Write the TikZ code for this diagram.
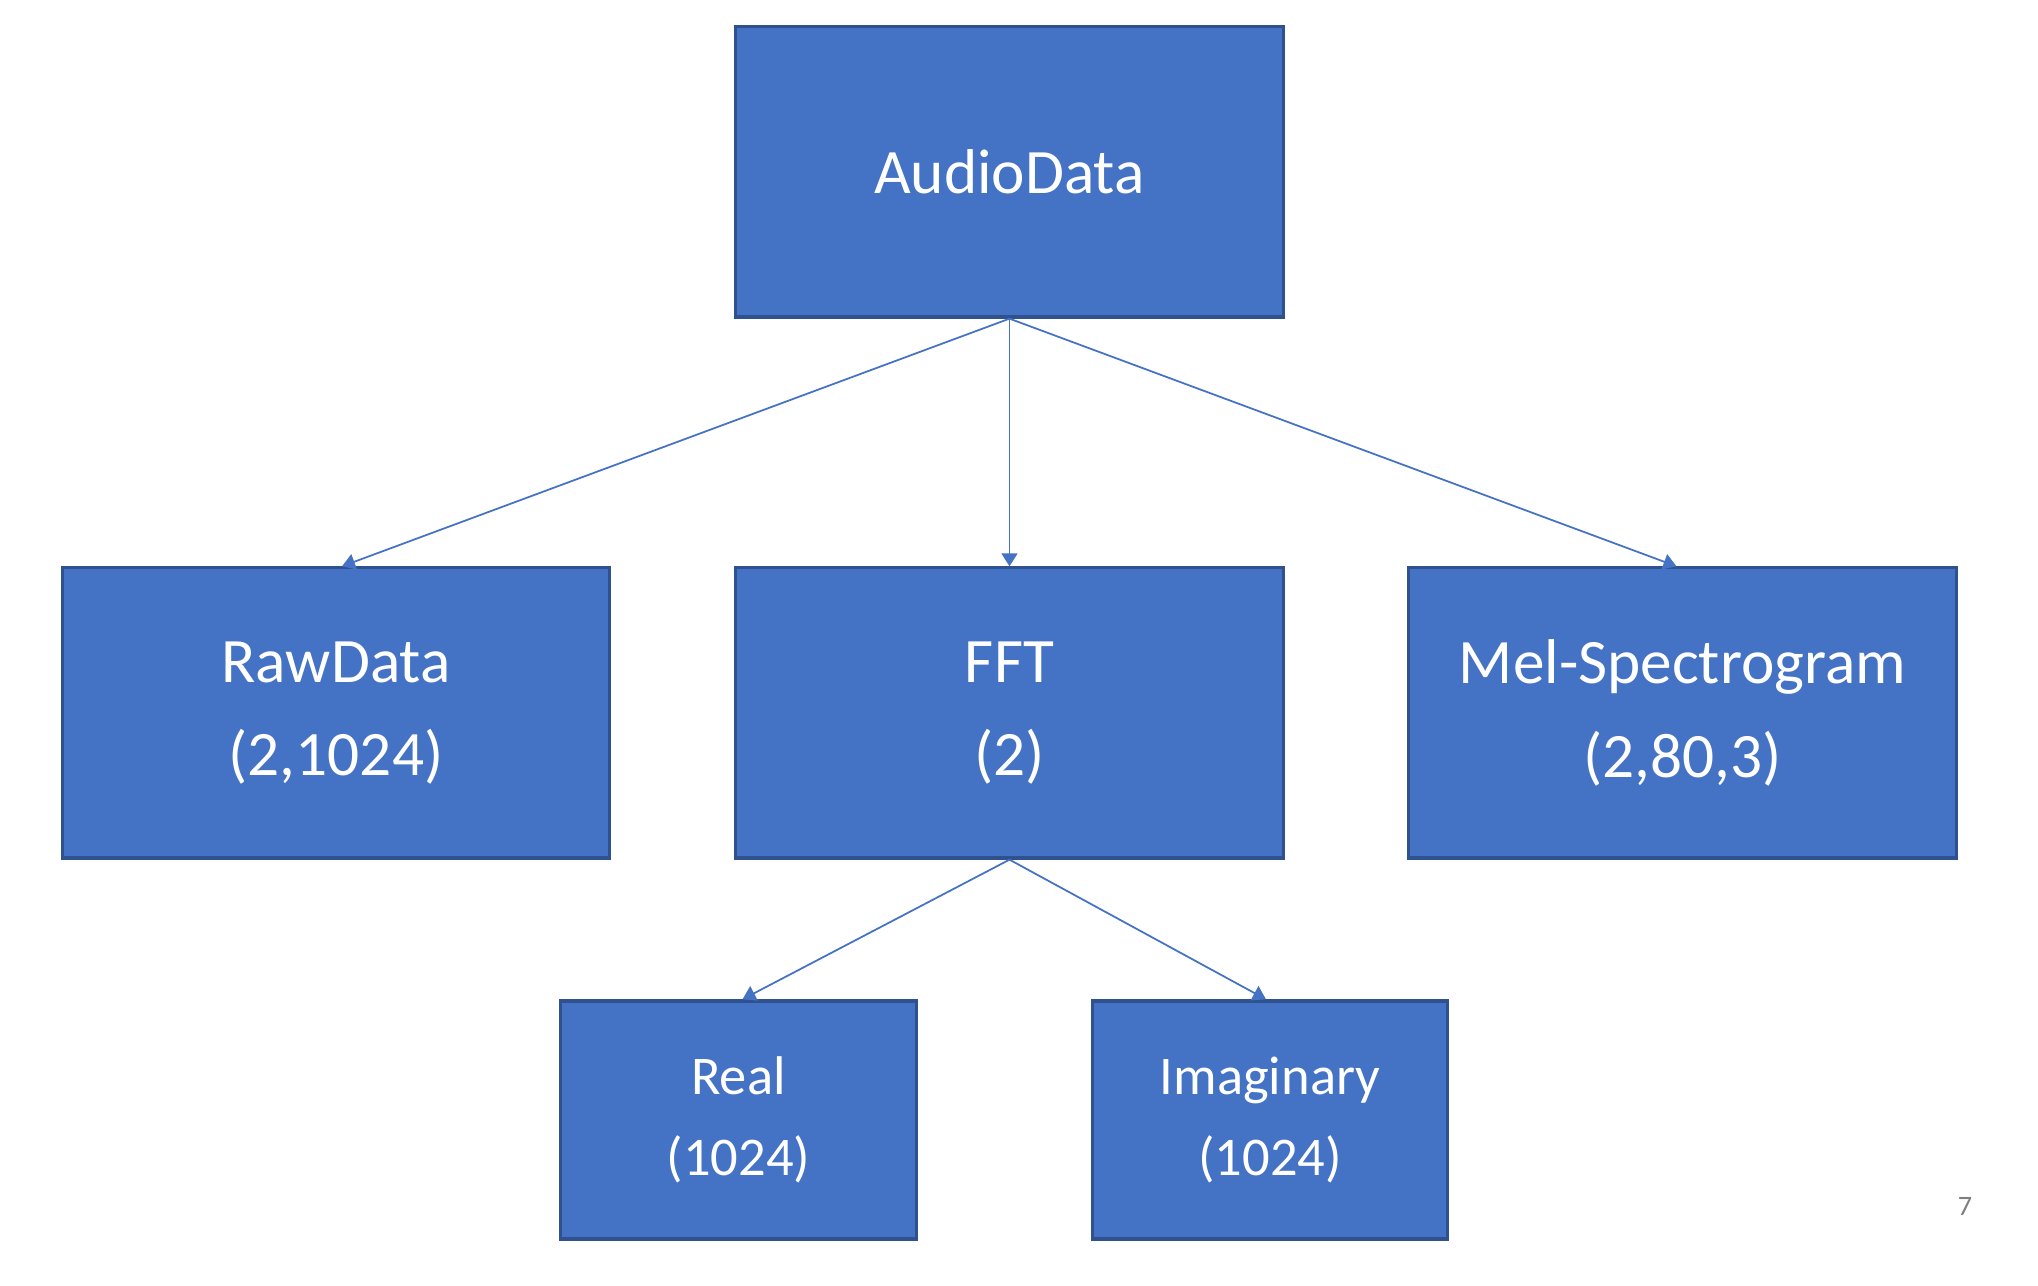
\documentclass[tikz,border=0pt]{standalone}
\usepackage{fontspec}
\setmainfont{Carlito}
\usetikzlibrary{arrows.meta}
\definecolor{ADFill}{HTML}{4472C4}
\definecolor{ADEdge}{HTML}{2F528F}
\definecolor{ADLink}{HTML}{4472C4}
\definecolor{ADPage}{HTML}{7F7F7F}
\tikzset{
  feed/.style={-{Triangle[length=1.3mm,width=1.6mm]},ADLink,line width=0.5pt},
  block/.style={draw=ADEdge,line width=0.9pt,fill=ADFill,text=white,align=center,
                minimum width=5.47cm,minimum height=2.9cm,inner sep=0pt,
                font=\fontsize{18}{26.5}\selectfont},
  subblock/.style={block,minimum width=3.55cm,minimum height=2.38cm,
                   font=\fontsize{15.5}{23}\selectfont},
  pagenum/.style={text=ADPage,font=\fontsize{8}{10}\selectfont},
}
\begin{document}
\begin{tikzpicture}[x=0.01cm,y=-0.01cm]
    \useasboundingbox (0,0) rectangle (2038,1286);

    \node[block] (audio) at (1009.5,172) {AudioData};

    \node[block] (raw) at (336,713) {RawData\\(2,1024)};
    \node[block] (fft) at (1009.5,713) {FFT\\(2)};
    \node[block] (mel) at (1682.5,713) {Mel-Spectrogram\\(2,80,3)};

    \node[subblock] (real) at (738.5,1120) {Real\\(1024)};
    \node[subblock] (imag) at (1270,1120) {Imaginary\\(1024)};

    \draw[feed] (audio.south) -- ([xshift=0.6mm]raw.north);
    \draw[feed] (audio.south) -- (fft.north);
    \draw[feed] (audio.south) -- ([xshift=-0.6mm]mel.north);

    \draw[feed] (fft.south) -- ([xshift=0.4mm]real.north);
    \draw[feed] (fft.south) -- ([xshift=-0.4mm]imag.north);

    \node[pagenum] (page) at (1965,1206) {7};
  \end{tikzpicture}
\end{document}
